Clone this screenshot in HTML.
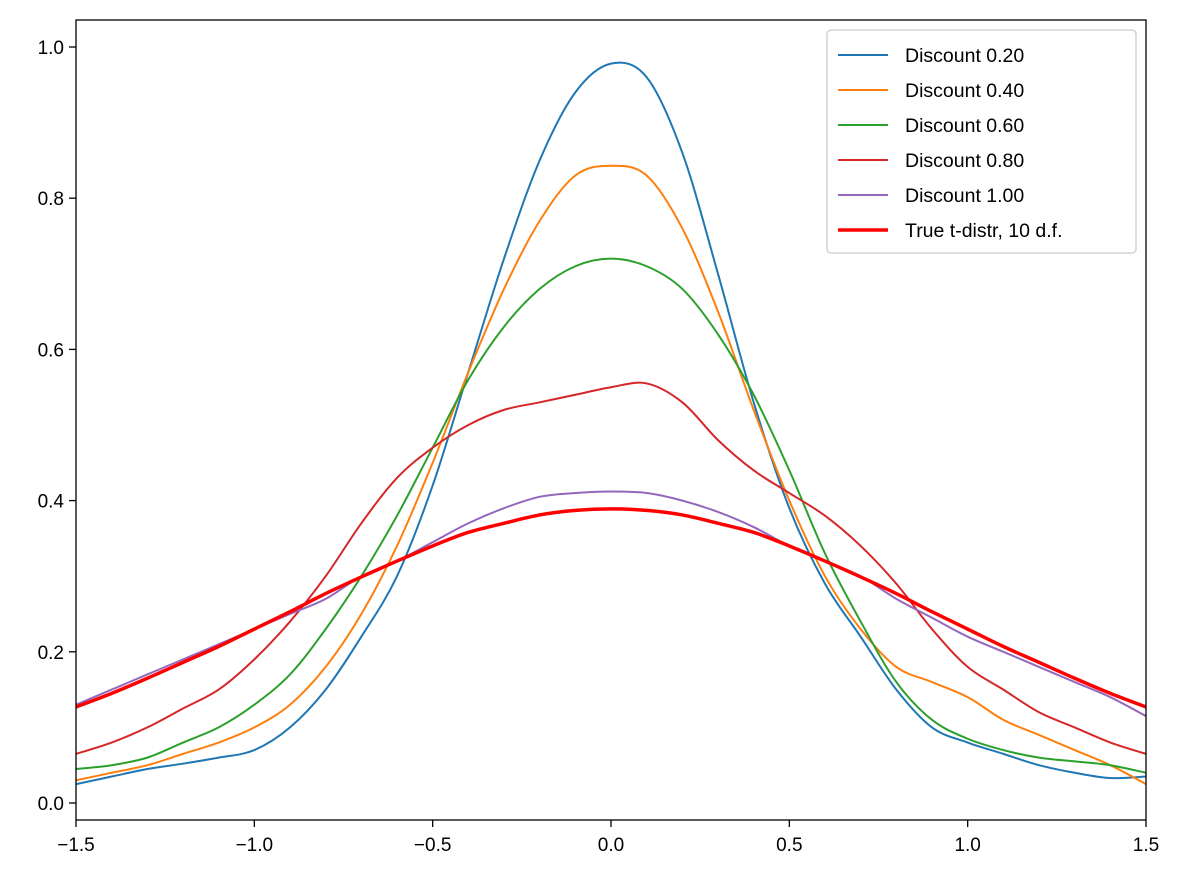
<!DOCTYPE html>
<html><head><meta charset="utf-8"><style>
html,body{margin:0;padding:0;background:#fff;}
svg{display:block;font-family:"Liberation Sans","DejaVu Sans",sans-serif;}
</style></head><body>
<svg id="chart" width="1200" height="894" viewBox="0 0 1200 894"></svg>
<script>
const xs = [-1.5,-1.4,-1.3,-1.2,-1.1,-1.0,-0.9,-0.8,-0.7,-0.6,-0.5,-0.4,-0.3,-0.2,-0.1,0,0.1,0.2,0.3,0.4,0.5,0.6,0.7,0.8,0.9,1.0,1.1,1.2,1.3,1.4,1.5];
const d020 = [0.025,0.035,0.045,0.052,0.06,0.07,0.10,0.15,0.22,0.30,0.42,0.57,0.72,0.85,0.94,0.978,0.96,0.86,0.70,0.53,0.39,0.29,0.22,0.15,0.10,0.08,0.065,0.05,0.04,0.033,0.035];
const d040 = [0.03,0.04,0.05,0.065,0.08,0.10,0.13,0.18,0.25,0.34,0.45,0.57,0.68,0.77,0.83,0.843,0.83,0.76,0.65,0.52,0.40,0.30,0.23,0.18,0.16,0.14,0.11,0.09,0.07,0.05,0.025];
const d060 = [0.045,0.05,0.06,0.08,0.10,0.13,0.17,0.23,0.30,0.38,0.47,0.56,0.63,0.68,0.71,0.72,0.71,0.68,0.62,0.54,0.44,0.33,0.24,0.16,0.11,0.085,0.07,0.06,0.055,0.05,0.04];
const d080 = [0.065,0.08,0.10,0.125,0.15,0.19,0.24,0.30,0.37,0.43,0.47,0.50,0.52,0.53,0.54,0.55,0.555,0.53,0.48,0.44,0.41,0.38,0.34,0.29,0.23,0.18,0.15,0.12,0.10,0.08,0.065];
const d100 = [0.13,0.15,0.17,0.19,0.21,0.23,0.25,0.27,0.30,0.32,0.345,0.37,0.39,0.405,0.41,0.412,0.41,0.40,0.385,0.365,0.34,0.32,0.30,0.27,0.245,0.22,0.20,0.18,0.16,0.14,0.115];
const dtrue = [0.127,0.145,0.165,0.186,0.207,0.230,0.253,0.277,0.299,0.320,0.340,0.358,0.370,0.381,0.387,0.389,0.387,0.381,0.370,0.358,0.340,0.320,0.299,0.277,0.253,0.230,0.207,0.186,0.165,0.145,0.127];
const xTicks = [-1.5,-1.0,-0.5,0.0,0.5,1.0,1.5];
const xTickLabels = ["\u22121.5","\u22121.0","\u22120.5","0.0","0.5","1.0","1.5"];
const yTicks = [0,0.2,0.4,0.6,0.8,1.0];
const yTickLabels = ["0.0","0.2","0.4","0.6","0.8","1.0"];
const seriesNames = ["Discount 0.20","Discount 0.40","Discount 0.60","Discount 0.80","Discount 1.00","True t-distr, 10 d.f."];

const svg = document.getElementById('chart');
const NS = 'http://www.w3.org/2000/svg';
const L=76,R=1146,T=20,B=820;
const X = v => 611 + v*(R-L)/3;
const Y = v => 803 - v*756;
function mk(tag, attrs, parent){const e=document.createElementNS(NS,tag);for(const k in attrs)e.setAttribute(k,attrs[k]);(parent||svg).appendChild(e);return e;}

const clip = mk('clipPath',{id:'pc'});
mk('rect',{x:L,y:T,width:R-L,height:B-T},clip);

function smooth(ys){
  const p = xs.map((x,i)=>[X(x),Y(ys[i])]);
  let d = 'M'+p[0][0]+','+p[0][1];
  for(let i=0;i<p.length-1;i++){
    const p0=p[Math.max(0,i-1)],p1=p[i],p2=p[i+1],p3=p[Math.min(p.length-1,i+2)];
    const c1=[p1[0]+(p2[0]-p0[0])/6,p1[1]+(p2[1]-p0[1])/6];
    const c2=[p2[0]-(p3[0]-p1[0])/6,p2[1]-(p3[1]-p1[1])/6];
    d+=' C'+c1[0]+','+c1[1]+' '+c2[0]+','+c2[1]+' '+p2[0]+','+p2[1];
  }
  return d;
}
const data=[d020,d040,d060,d080,d100,dtrue];
const colors=['#1f77b4','#ff7f0e','#2ca02c','#d62728','#9467bd','#ff0000'];
const widths=[2,2,2,2,2,3.5];
const g = mk('g',{'clip-path':'url(#pc)'});


data.forEach((ys,i)=>{
  const p=mk('path',{d:smooth(ys),fill:'none',stroke:colors[i],'stroke-width':widths[i]},g);
  
  
});
const frame=mk('rect',{x:L,y:T,width:R-L,height:B-T,fill:'none',stroke:'#000','stroke-width':1.3});



xTicks.forEach((v,i)=>{
  mk('line',{x1:X(v),x2:X(v),y1:B,y2:B+7,stroke:'#000','stroke-width':1.3});
  const t=mk('text',{x:X(v),y:B+31,'text-anchor':'middle','font-size':19,fill:'#000'});
  t.textContent=xTickLabels[i];
  
  
});
yTicks.forEach((v,i)=>{
  mk('line',{x1:L-7,x2:L,y1:Y(v),y2:Y(v),stroke:'#000','stroke-width':1.3});
  const t=mk('text',{x:L-12,y:Y(v)+7,'text-anchor':'end','font-size':19,fill:'#000'});
  t.textContent=yTickLabels[i];
  
  
});

const lg=mk('g',{});


mk('rect',{x:827,y:30,width:309,height:223,rx:4,fill:'#fff','fill-opacity':0.8,stroke:'#ccc','stroke-width':1.3},lg);
seriesNames.forEach((n,i)=>{
  const y=55+i*35;
  mk('line',{x1:838,x2:888,y1:y,y2:y,stroke:colors[i],'stroke-width':widths[i]},lg);
  const t=mk('text',{x:905,y:y+7,'font-size':19.5,fill:'#000'},lg);
  t.textContent=n;
  
  
});
</script>
</body></html>
